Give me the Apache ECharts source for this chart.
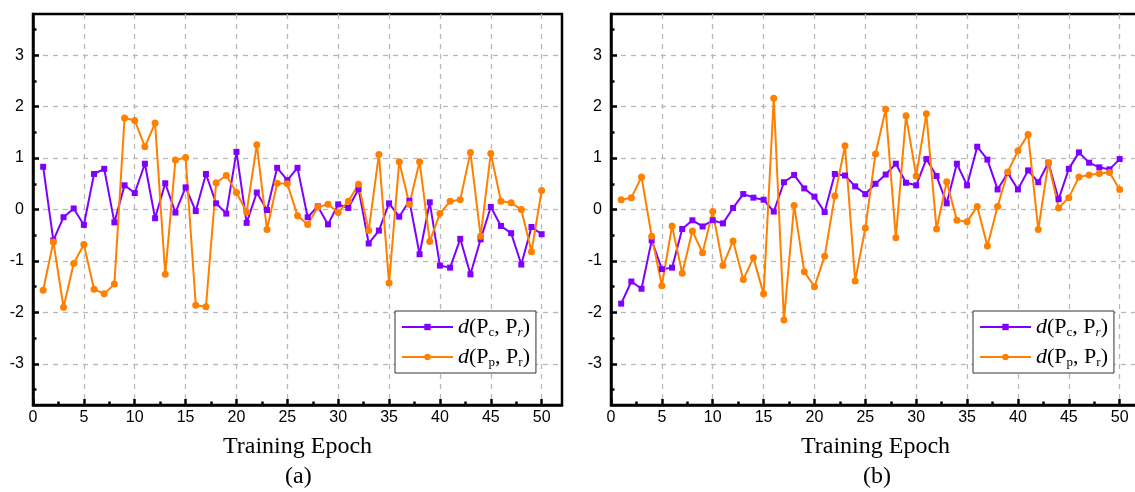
<!DOCTYPE html>
<html>
<head>
<meta charset="utf-8">
<script src="https://cdn.jsdelivr.net/npm/echarts@6/dist/echarts.min.js"></script>
<style>
html, body { margin: 0; padding: 0; background: #fff; }
#chart { width: 1135px; height: 492px; }
</style>
</head>
<body>
<div id="chart"></div>
<script>
const epochs = [1, 2, 3, 4, 5, 6, 7, 8, 9, 10, 11, 12, 13, 14, 15, 16, 17, 18, 19, 20,
  21, 22, 23, 24, 25, 26, 27, 28, 29, 30, 31, 32, 33, 34, 35, 36, 37, 38, 39, 40,
  41, 42, 43, 44, 45, 46, 47, 48, 49, 50];

// panel (a)
const pcA = [0.83, -0.60, -0.15, 0.02, -0.30, 0.69, 0.79, -0.25, 0.47, 0.32,
  0.89, -0.17, 0.51, -0.06, 0.43, -0.03, 0.69, 0.12, -0.08, 1.12,
  -0.26, 0.33, -0.01, 0.81, 0.57, 0.81, -0.15, 0.06, -0.29, 0.10,
  0.03, 0.40, -0.66, -0.41, 0.12, -0.14, 0.17, -0.87, 0.14, -1.09,
  -1.13, -0.57, -1.26, -0.58, 0.05, -0.32, -0.46, -1.07, -0.34, -0.48];
const ppA = [-1.57, -0.63, -1.90, -1.05, -0.68, -1.55, -1.64, -1.45, 1.78, 1.73,
  1.22, 1.68, -1.26, 0.96, 1.01, -1.86, -1.89, 0.52, 0.66, 0.33,
  -0.05, 1.26, -0.39, 0.51, 0.50, -0.12, -0.29, 0.05, 0.10, -0.06,
  0.16, 0.49, -0.41, 1.07, -1.43, 0.93, 0.10, 0.93, -0.62, -0.08,
  0.16, 0.19, 1.11, -0.52, 1.09, 0.16, 0.13, 0.00, -0.82, 0.37];

// panel (b)
const pcB = [-1.83, -1.40, -1.54, -0.60, -1.16, -1.13, -0.38, -0.21, -0.33, -0.21,
  -0.27, 0.03, 0.30, 0.23, 0.19, -0.04, 0.53, 0.67, 0.41, 0.25,
  -0.05, 0.69, 0.66, 0.45, 0.30, 0.50, 0.68, 0.89, 0.52, 0.47,
  0.98, 0.65, 0.12, 0.89, 0.47, 1.22, 0.97, 0.39, 0.71, 0.39,
  0.76, 0.53, 0.91, 0.20, 0.79, 1.11, 0.91, 0.82, 0.78, 0.98];
const ppB = [0.19, 0.23, 0.63, -0.52, -1.48, -0.32, -1.24, -0.42, -0.84, -0.04,
  -1.09, -0.61, -1.36, -0.94, -1.64, 2.16, -2.15, 0.08, -1.21, -1.50,
  -0.91, 0.26, 1.24, -1.39, -0.36, 1.08, 1.95, -0.55, 1.82, 0.65,
  1.86, -0.38, 0.54, -0.21, -0.24, 0.06, -0.71, 0.06, 0.73, 1.14,
  1.46, -0.39, 0.91, 0.03, 0.23, 0.63, 0.67, 0.70, 0.72, 0.39];

const xTicks = [0, 5, 10, 15, 20, 25, 30, 35, 40, 45, 50];
const xMinorTicks = [2.5, 7.5, 12.5, 17.5, 22.5, 27.5, 32.5, 37.5, 42.5, 47.5];
const yTicks = [-3, -2, -1, 0, 1, 2, 3];
const yMinorTicks = [-3.5, -2.5, -1.5, -0.5, 0.5, 1.5, 2.5, 3.5];
const panelLabels = ['(a)', '(b)'];

const PURPLE = '#8000ff';
const ORANGE = '#ff8000';
const serif = '"Liberation Serif", "Times New Roman", serif';
const sans = '"Liberation Sans", Arial, sans-serif';

const panelLeft = [33, 611];

function pairs(ys) {
  return epochs.map((e, i) => [e, ys[i]]);
}

let xAxes = [];
let yAxes = [];
let grids = [];
let legends = [];
let graphics = [];

panelLeft.forEach((left, g) => {
  grids.push({
    left: left, top: 14, width: 529, height: 391,
    outerBoundsMode: 'none', containLabel: false,
    show: true, borderColor: '#000', borderWidth: 2.5
  });
  // main x axis
  xAxes.push({
    type: 'value', gridIndex: g, position: 'bottom', min: 0, max: 52,
    name: 'Training Epoch', nameLocation: 'middle', nameGap: 30,
    nameTextStyle: { fontFamily: serif, fontSize: 24, color: '#000' },
    axisLine: { show: true, onZero: false, lineStyle: { color: '#000', width: 2.5 } },
    axisTick: { show: true, inside: true, length: 6, customValues: xTicks, lineStyle: { color: '#000', width: 2.5 } },
    axisLabel: { customValues: xTicks, margin: 5, fontFamily: sans, fontSize: 16, color: '#000' },
    splitLine: { show: true, lineStyle: { color: '#b8b8b8', width: 1.3, type: [5, 5] } }
  });
  // minor x ticks
  xAxes.push({
    type: 'value', gridIndex: g, position: 'bottom', min: 0, max: 52,
    axisLine: { show: false, onZero: false },
    axisTick: { show: true, inside: true, length: 3.5, customValues: xMinorTicks, lineStyle: { color: '#000', width: 2.5 } },
    axisLabel: { show: false },
    splitLine: { show: false }
  });
  yAxes.push({
    type: 'value', gridIndex: g, position: 'left', min: -3.8, max: 3.8,
    axisLine: { show: true, onZero: false, lineStyle: { color: '#000', width: 2.5 } },
    axisTick: { show: true, inside: true, length: 6, customValues: yTicks, lineStyle: { color: '#000', width: 2.5 } },
    axisLabel: { customValues: yTicks, margin: 9, fontFamily: sans, fontSize: 16, color: '#000' },
    splitLine: { show: true, lineStyle: { color: '#b8b8b8', width: 1.3, type: [5, 5] } }
  });
  yAxes.push({
    type: 'value', gridIndex: g, position: 'left', min: -3.8, max: 3.8,
    axisLine: { show: false, onZero: false },
    axisTick: { show: true, inside: true, length: 3.5, customValues: yMinorTicks, lineStyle: { color: '#000', width: 2.5 } },
    axisLabel: { show: false },
    splitLine: { show: false }
  });
  legends.push({
    orient: 'vertical',
    left: left + 362, top: 311,
    data: ['pc', 'pp'],
    itemWidth: 51, itemHeight: 8, itemGap: 6,
    padding: [4, 6, 4, 6],
    backgroundColor: '#fff',
    borderColor: '#333', borderWidth: 1,
    borderRadius: 0,
    selectedMode: false,
    formatter: function (name) {
      return name === 'pc'
        ? '{i|d}{n|(P}{s|c}{n|, P}{si|r}{n|)}'
        : '{i|d}{n|(P}{s|p}{n|, P}{s|r}{n|)}';
    },
    textStyle: {
      lineHeight: 24,
      rich: {
        i: { fontFamily: serif, fontStyle: 'italic', fontSize: 22, color: '#000' },
        n: { fontFamily: serif, fontSize: 22, color: '#000' },
        s: { fontFamily: serif, fontSize: 13, color: '#000', lineHeight: 13, verticalAlign: 'bottom' },
        si: { fontFamily: serif, fontStyle: 'italic', fontSize: 13, color: '#000', lineHeight: 13, verticalAlign: 'bottom' }
      }
    }
  });
  graphics.push({
    type: 'text', left: left + 264 - 12, top: 465,
    style: { text: panelLabels[g], font: '24px ' + serif, fill: '#000' }
  });
});

const lineSeries = [
  { name: 'pc', data: pairs(pcA), g: 0, color: PURPLE, symbol: 'rect', size: 6 },
  { name: 'pp', data: pairs(ppA), g: 0, color: ORANGE, symbol: 'circle', size: 7 },
  { name: 'pc', data: pairs(pcB), g: 1, color: PURPLE, symbol: 'rect', size: 6 },
  { name: 'pp', data: pairs(ppB), g: 1, color: ORANGE, symbol: 'circle', size: 7 }
].map(s => ({
  type: 'line',
  name: s.name,
  xAxisIndex: s.g * 2,
  yAxisIndex: s.g * 2,
  data: s.data,
  symbol: s.symbol,
  symbolSize: s.size,
  showAllSymbol: true,
  animation: false,
  lineStyle: { color: s.color, width: 2 },
  itemStyle: { color: s.color }
}));

let myChart = echarts.init(document.getElementById('chart'));
myChart.setOption({
  animation: false,
  grid: grids,
  xAxis: xAxes,
  yAxis: yAxes,
  legend: legends,
  graphic: graphics,
  series: lineSeries
});
</script>
</body>
</html>
